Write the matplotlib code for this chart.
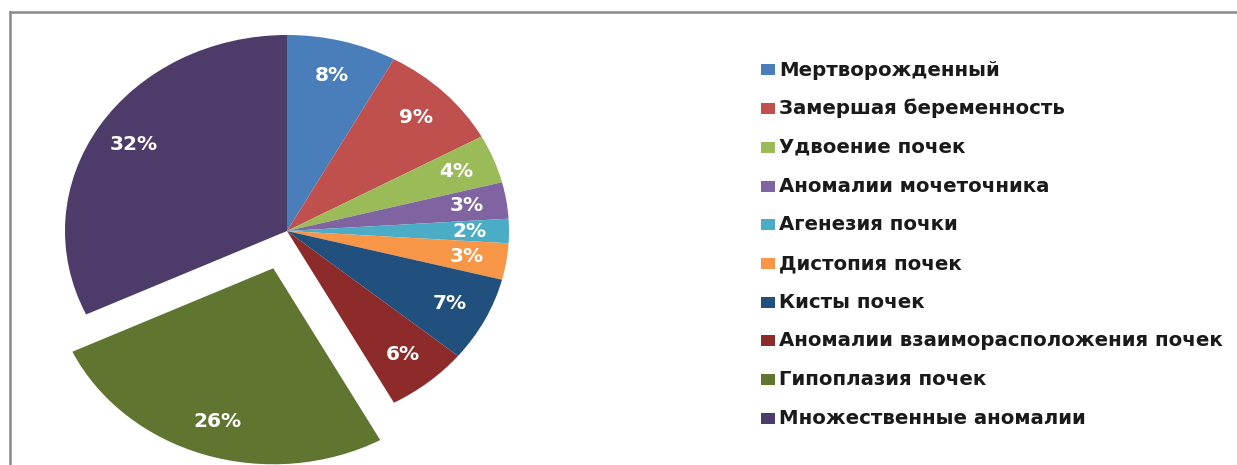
import matplotlib
matplotlib.use("Agg")
import matplotlib.pyplot as plt
from matplotlib.lines import Line2D
from matplotlib.patches import Rectangle

categories = [
    "Мертворожденный",
    "Замершая беременность",
    "Удвоение почек",
    "Аномалии мочеточника",
    "Агенезия почки",
    "Дистопия почек",
    "Кисты почек",
    "Аномалии взаиморасположения почек",
    "Гипоплазия почек",
    "Множественные аномалии",
]
values = [8, 9, 4, 3, 2, 3, 7, 6, 26, 32]
colors = ["#4A7EBB", "#C0504D", "#9BBB59", "#8064A2", "#4BACC6",
          "#F79646", "#22507E", "#8C2B29", "#5F7530", "#4D3B69"]
explode = [0, 0, 0, 0, 0, 0, 0, 0, 0.2, 0]

FONT = ["DejaVu Sans"]
plt.rcParams["font.family"] = FONT

W, H = 1237, 465
fig = plt.figure(figsize=(W / 100, H / 100), dpi=100)
fig.patch.set_facecolor("white")

# frame lines (top and left border)
fig.add_artist(Line2D([10 / W, 1.0], [1 - 12 / H, 1 - 12 / H], color="#8a8a8a", lw=1.8))
fig.add_artist(Line2D([10 / W, 10 / W], [1 - 12 / H, 0], color="#8a8a8a", lw=1.8))

# pie axes (slightly stretched horizontally like the reference)
cx, cy, rx, ry = 287, 231, 222, 196
xl, yl = 1.3, 1.2
ax = fig.add_axes([(cx - xl * rx) / W, (H - cy - yl * ry) / H, 2 * xl * rx / W, 2 * yl * ry / H])
wedges, texts, autotexts = ax.pie(
    values, colors=colors, explode=explode, startangle=90, counterclock=False,
    autopct=lambda p: f"{p:.0f}%", pctdistance=0.82,
    wedgeprops=dict(linewidth=0),
    textprops=dict(color="white", fontsize=14.5, fontweight="bold"),
)
ax.set_aspect("auto")
ax.set_xlim(-xl, xl)
ax.set_ylim(-yl, yl)
ax.axis("off")

# legend
y0, dy = 70, 38.7
for i, (lab, col) in enumerate(zip(categories, colors)):
    yc = y0 + i * dy
    fig.add_artist(Rectangle((761 / W, (H - yc - 5.5) / H), 14 / W, 11 / H,
                             facecolor=col, edgecolor="none", transform=fig.transFigure))
    fig.text(779 / W, (H - yc) / H, lab, fontsize=14.2, fontweight="bold",
             color="#1a1a1a", va="center", ha="left")

fig.savefig("out.png", dpi=100)
